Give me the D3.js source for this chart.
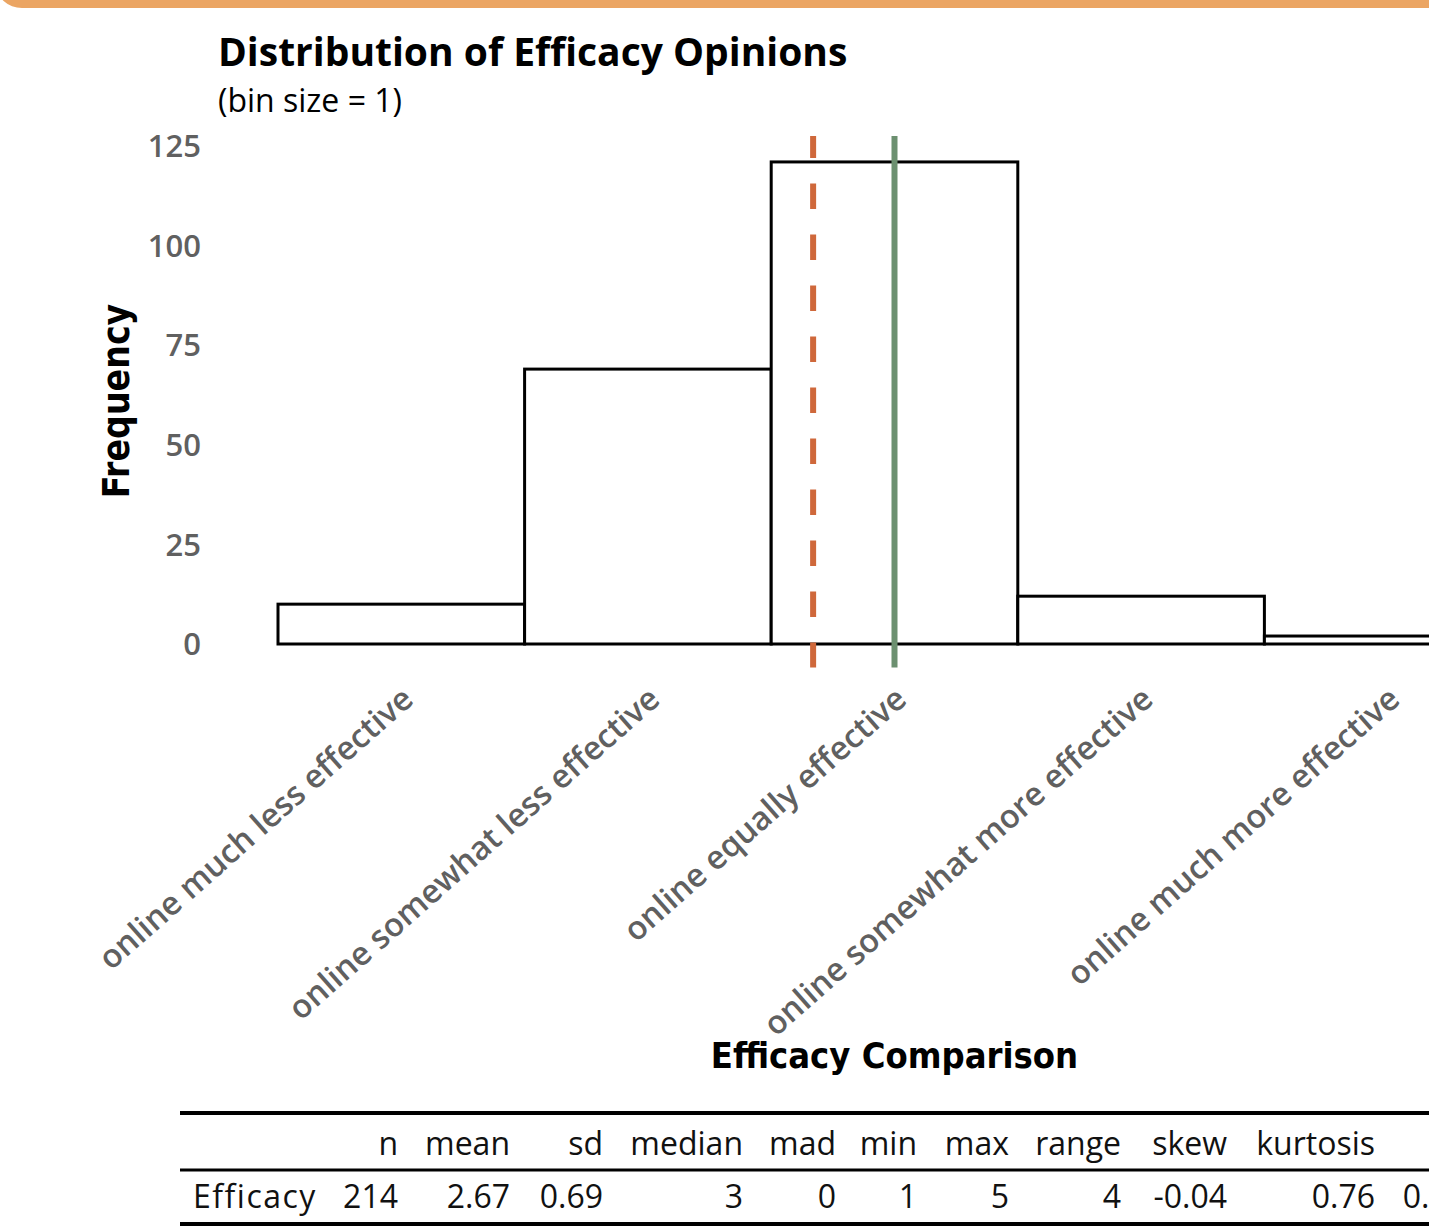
<!DOCTYPE html>
<html>
<head>
<meta charset="utf-8">
<script src="https://cdn.jsdelivr.net/npm/d3@7"></script>
<style>
  html, body { margin: 0; padding: 0; background: #fff; overflow: hidden; }
  svg { display: block; }
  text { font-family: "Open Sans", "Noto Sans", sans-serif; }
  .axis-title { font-family: "DejaVu Sans Condensed", "DejaVu Sans", sans-serif; font-stretch: condensed; }
</style>
</head>
<body>
<svg id="chart" width="1429" height="1228"></svg>
<script>
// Response categories (1..5) and their counts
const categories = [
  "online much less effective",
  "online somewhat less effective",
  "online equally effective",
  "online somewhat more effective",
  "online much more effective"
];
const levels = [1, 2, 3, 4, 5];
const counts = [10, 69, 121, 12, 2];
const yTicks = [0, 25, 50, 75, 100, 125];

// Summary statistics
const meanValue = 2.67;
const medianValue = 3;
const statColumns = ["", "n", "mean", "sd", "median", "mad", "min", "max", "range", "skew", "kurtosis", "se"];
const statRow = ["Efficacy", "214", "2.67", "0.69", "3", "0", "1", "5", "4", "-0.04", "0.76", "0.05"];

const W = 1429, H = 1228;
const svg = d3.select("#chart");

// Orange header strip with a rounded lower-left corner
svg.append("rect")
  .attr("x", -4).attr("y", -40)
  .attr("width", W + 60).attr("height", 48)
  .attr("rx", 26).attr("ry", 26)
  .attr("fill", "#eba563");

// Scales
const x = d3.scaleLinear().domain([0.5, 5.5]).range([278, 1511]);
const y = d3.scaleLinear().domain([0, 125]).range([644, 146]);

const gray = "#606060";

// Titles
svg.append("text")
  .attr("x", 218).attr("y", 66)
  .attr("font-size", 39).attr("font-weight", 700)
  .attr("fill", "#000")
  .text("Distribution of Efficacy Opinions");
svg.append("text")
  .attr("x", 218).attr("y", 112)
  .attr("font-size", 32)
  .attr("fill", "#000")
  .text("(bin size = 1)");

// Y axis tick labels
svg.append("g").selectAll("text")
  .data(yTicks).join("text")
  .attr("x", 201).attr("y", d => y(d))
  .attr("dy", "0.36em")
  .attr("text-anchor", "end")
  .attr("font-size", 31).attr("font-weight", 600)
  .attr("fill", gray)
  .text(d => d);

// Y axis title
svg.append("text")
  .attr("class", "axis-title")
  .attr("transform", `translate(129, ${(y(0) + y(125)) / 2 + 6}) rotate(-90)`)
  .attr("text-anchor", "middle")
  .attr("font-size", 37).attr("font-weight", 700)
  .attr("fill", "#000")
  .text("Frequency");

// Histogram bars (bin width = 1)
svg.append("g").selectAll("rect")
  .data(levels.map((v, i) => ({ v, c: counts[i] })))
  .join("rect")
  .attr("x", d => x(d.v - 0.5))
  .attr("y", d => y(d.c))
  .attr("width", d => x(d.v + 0.5) - x(d.v - 0.5))
  .attr("height", d => y(0) - y(d.c))
  .attr("fill", "#fff")
  .attr("stroke", "#000")
  .attr("stroke-width", 3);

// Reference lines: mean (dashed) and median (solid)
const lineTop = y(127.5), lineBottom = y(-5.9);
svg.append("line")
  .attr("x1", x(meanValue)).attr("x2", x(meanValue))
  .attr("y1", lineTop).attr("y2", lineBottom)
  .attr("stroke", "#cf683b").attr("stroke-width", 6)
  .attr("stroke-dasharray", "25.5 25.5")
  .attr("stroke-dashoffset", 3.5);
svg.append("line")
  .attr("x1", x(medianValue)).attr("x2", x(medianValue))
  .attr("y1", lineTop).attr("y2", lineBottom)
  .attr("stroke", "#6c9070").attr("stroke-width", 6);

// Rotated category labels
svg.append("g").selectAll("text")
  .data(levels.map((v, i) => ({ v, label: categories[i] })))
  .join("text")
  .attr("transform", d => `translate(${x(d.v) + 14}, ${y(0) + 58}) rotate(-41.5)`)
  .attr("text-anchor", "end")
  .attr("font-size", 32.5).attr("font-weight", 600)
  .attr("fill", gray)
  .text(d => d.label);

// X axis title
svg.append("text")
  .attr("class", "axis-title")
  .attr("x", x(3)).attr("y", 1068)
  .attr("text-anchor", "middle")
  .attr("font-size", 36).attr("font-weight", 700)
  .attr("fill", "#000")
  .text("Efficacy Comparison");

// Summary statistics table
const tableLeft = 180;
const colRight = [null, 398, 510, 603, 743, 836, 917, 1009, 1121, 1227, 1375, 1466];
const table = svg.append("g");
table.append("rect").attr("x", tableLeft).attr("y", 1111).attr("width", W).attr("height", 4).attr("fill", "#000");
table.append("rect").attr("x", tableLeft).attr("y", 1168.5).attr("width", W).attr("height", 3).attr("fill", "#000");
table.append("rect").attr("x", tableLeft).attr("y", 1222).attr("width", W).attr("height", 4).attr("fill", "#000");

table.selectAll("text.head")
  .data(statColumns.slice(1)).join("text")
  .attr("class", "head")
  .attr("x", (d, i) => colRight[i + 1]).attr("y", 1155)
  .attr("text-anchor", "end")
  .attr("font-size", 32)
  .attr("fill", "#111")
  .text(d => d);

table.selectAll("text.cell")
  .data(statRow).join("text")
  .attr("class", "cell")
  .attr("x", (d, i) => i === 0 ? 193 : colRight[i])
  .attr("y", 1208)
  .attr("text-anchor", (d, i) => i === 0 ? "start" : "end")
  .attr("font-size", 32)
  .attr("letter-spacing", (d, i) => i === 0 ? 1.5 : 0)
  .attr("fill", "#111")
  .text(d => d);
</script>
</body>
</html>
